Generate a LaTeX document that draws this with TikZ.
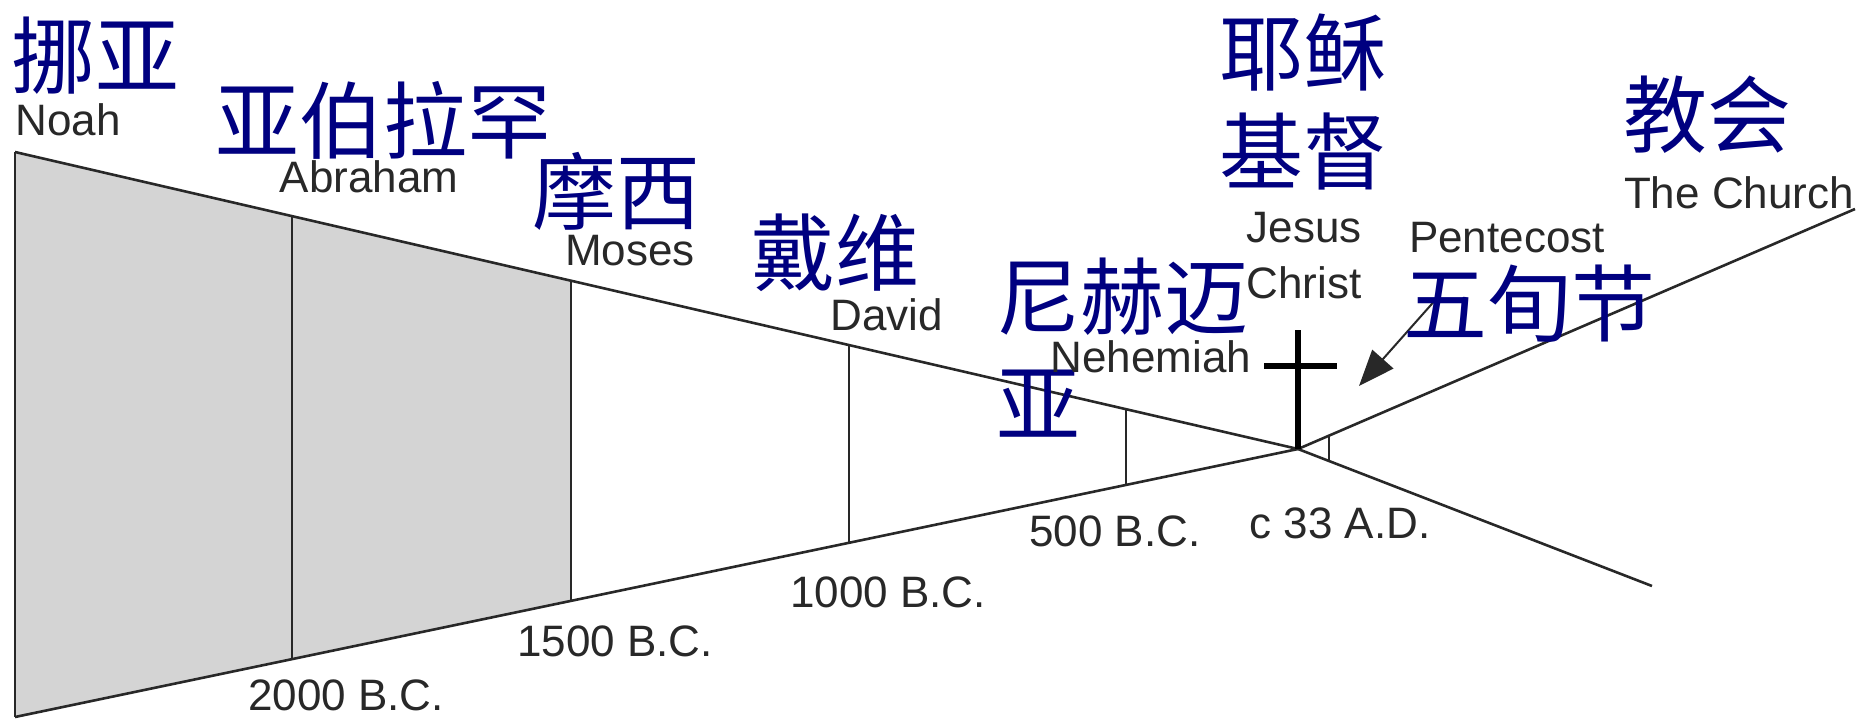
\documentclass[tikz,border=0pt]{standalone}
\usepackage{fontspec}
\setmainfont{Liberation Sans}
\newfontfamily\cjk{Noto Sans CJK SC}
\usetikzlibrary{calc,arrows.meta}
\definecolor{cjkblue}{RGB}{0,0,128}
\definecolor{ink}{RGB}{40,40,40}
\definecolor{shadegray}{RGB}{212,212,212}
\begin{document}
\begin{tikzpicture}[x=0.5pt,y=-0.5pt,
  cn/.style={text=cjkblue,font=\cjk\fontsize{42}{53.5}\selectfont,inner sep=0pt},
  en/.style={text=ink,font=\fontsize{22}{26}\selectfont,inner sep=0pt},
  edge/.style={draw=ink,line width=1.3pt},
  era/.style={draw=ink,line width=0.8pt},
  crossbar/.style={draw=black,line width=2.8pt}]
\useasboundingbox (0,0) rectangle (1864,718);
% main geometry
\coordinate (TL) at (15,152);
\coordinate (BL) at (15,717);
\coordinate (A) at (1298,449);
\coordinate (E) at (1652,586);
\coordinate (C) at (1855,209);
\coordinate (abT) at ($(TL)!{(292-15)/1283}!(A)$);
\coordinate (abB) at ($(BL)!{(292-15)/1283}!(A)$);
\coordinate (moT) at ($(TL)!{(571-15)/1283}!(A)$);
\coordinate (moB) at ($(BL)!{(571-15)/1283}!(A)$);
\coordinate (daT) at ($(TL)!{(849-15)/1283}!(A)$);
\coordinate (daB) at ($(BL)!{(849-15)/1283}!(A)$);
\coordinate (neT) at ($(TL)!{(1126-15)/1283}!(A)$);
\coordinate (neB) at ($(BL)!{(1126-15)/1283}!(A)$);
\coordinate (peT) at ($(A)!{31/557}!(C)$);
\coordinate (peB) at ($(A)!{31/354}!(E)$);
\coordinate (crT) at (1298,330);
\coordinate (crL) at (1264,366);
\coordinate (crR) at (1337,366);
\coordinate (arS) at (1438,297);
\coordinate (arE) at (1359,386);
% shading
\fill[shadegray] (TL) -- (moT) -- (moB) -- (BL) -- cycle;
% lines
\draw[edge] (TL) -- (BL);
\draw[edge] (TL) -- (A) -- (E);
\draw[edge] (BL) -- (A);
\draw[edge] (A) -- (C);
\draw[era] (abT) -- (abB);
\draw[era] (moT) -- (moB);
\draw[era] (daT) -- (daB);
\draw[era] (neT) -- (neB);
\draw[era] (peT) -- (peB);
\draw[crossbar] (crT) -- (A);
\draw[crossbar] (crL) -- (crR);
\draw[draw=ink,line width=1pt,-{Triangle[length=18pt,width=14pt]}] (arS) -- (arE);
% labels
\node[cn] (noahc) at (95,56) {挪亚};
\node[en] (noah) at (68,120) {Noah};
\node[cn] (abrc) at (383,120) {亚伯拉罕};
\node[en] (abr) at (369,177) {Abraham};
\node[cn] (mosc) at (616,191) {摩西};
\node[en] (mos) at (630,251) {Moses};
\node[cn] (davc) at (835,253) {戴维};
\node[en] (dav) at (887,315) {David};
\node[cn,align=left,anchor=north west] (nehc) at (996,258) {尼赫迈\\亚};
\node[en] (neh) at (1151,357) {Nehemiah};
\node[cn] (jesc1) at (1303,53) {耶稣};
\node[cn] (jesc2) at (1303,151) {基督};
\node[en] (jes1) at (1304,228) {Jesus};
\node[en] (jes2) at (1304,283) {Christ};
\node[cn] (chc) at (1707,115) {教会};
\node[en] (ch) at (1739,193) {The Church};
\node[en] (pen) at (1507,238) {Pentecost};
\node[cn] (penc) at (1529,304) {五旬节};
\node[en] (ad) at (1340,523) {c 33 A.D.};
\node[en] (bc5) at (1115,531) {500 B.C.};
\node[en] (bc10) at (888,592) {1000 B.C.};
\node[en] (bc15) at (615,641) {1500 B.C.};
\node[en] (bc20) at (346,695) {2000 B.C.};
\end{tikzpicture}
\end{document}
